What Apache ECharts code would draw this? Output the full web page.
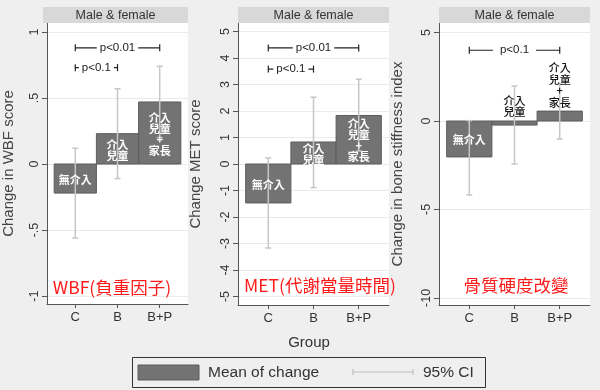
<!DOCTYPE html>
<html><head><meta charset="utf-8">
<script src="https://cdn.jsdelivr.net/npm/echarts@6/dist/echarts.min.js"></script>
<style>html,body{margin:0;padding:0;background:#efefef}#c{width:600px;height:390px}</style>
</head><body><div id="c"></div><script>
// ---------- data ----------
const groups = ['C', 'B', 'B+P'];
const groupPos = [1, 2, 3];
const barLabels = ['無介入', '介入\n兒童', '介入\n兒童\n+\n家長'];

const wbfMean = [-0.22, 0.23, 0.47];
const wbfLow  = [-0.56, -0.11, 0.20];
const wbfHigh = [0.12, 0.57, 0.74];

const metMean = [-1.47, 0.83, 1.83];
const metLow  = [-3.17, -0.89, 0.49];
const metHigh = [0.23, 2.52, 3.20];

const bsiMean = [-2.03, -0.23, 0.56];
const bsiLow  = [-4.18, -2.43, -1.02];
const bsiHigh = [0.02, 1.98, 2.10];

const wbfTicks = [-1, -0.5, 0, 0.5, 1];
const wbfTickLabels = ['-1', '-.5', '0', '.5', '1'];
const metTicks = [-5, -4, -3, -2, -1, 0, 1, 2, 3, 4, 5];
const metTickLabels = ['-5', '-4', '-3', '-2', '-1', '0', '1', '2', '3', '4', '5'];
const bsiTicks = [-10, -5, 0, 5];
const bsiTickLabels = ['-10', '-5', '0', '5'];

// brackets: [from group, to group, y value, text]
const wbfBrackets = [[1, 3, 0.88, 'p<0.01'], [1, 2, 0.73, 'p<0.1']];
const metBrackets = [[1, 3, 4.38, 'p<0.01'], [1, 2, 3.58, 'p<0.1']];
const bsiBrackets = [[1, 3, 4.0, 'p<0.1']];

const panelTitles = ['WBF(負重因子)', 'MET(代謝當量時間)', '骨質硬度改變'];
const yNames = ['Change in WBF score', 'Change MET score', 'Change in bone stiffness index'];
const stripText = 'Male & female';
const xTitle = 'Group';
const legendNames = ['Mean of change', '95% CI'];

// ---------- layout ----------
const FONT = '"Liberation Sans", Arial, sans-serif';
const CJK = '"Noto Sans CJK TC", "Noto Sans CJK SC", sans-serif';
const panels = [
  {mean: wbfMean, low: wbfLow, high: wbfHigh, ticks: wbfTicks, tl: wbfTickLabels, br: wbfBrackets,
   left: 43, top: 23, width: 145, height: 281, ymin: -1.06, ymax: 1.068, nameGap: 31, outside: [false, false, false], brPad: 3, titleX: 112, titleY: 287},
  {mean: metMean, low: metLow, high: metHigh, ticks: metTicks, tl: metTickLabels, br: metBrackets,
   left: 238, top: 23, width: 151, height: 282, ymin: -5.32, ymax: 5.32, nameGap: 35, outside: [false, false, false], brPad: 3, titleX: 320, titleY: 285},
  {mean: bsiMean, low: bsiLow, high: bsiHigh, ticks: bsiTicks, tl: bsiTickLabels, br: bsiBrackets,
   left: 439, top: 23, width: 151, height: 282, ymin: -10.4, ymax: 5.54, nameGap: 34, outside: [false, true, true], brPad: 7, titleX: 516, titleY: 285}
];

const grid = [], xAxis = [], yAxis = [], series = [], graphic = [];

panels.forEach((p, i) => {
  grid.push({left: p.left, top: p.top, width: p.width, height: p.height, show: true,
    backgroundColor: '#ffffff', borderWidth: 0, containLabel: false});
  xAxis.push({type: 'value', gridIndex: i, min: 0.33, max: 3.67,
    axisLine: {show: true, onZero: false, lineStyle: {color: '#555', width: 1}},
    axisTick: {show: true, customValues: groupPos, length: 4, lineStyle: {color: '#555'}},
    axisLabel: {customValues: groupPos, formatter: v => groups[Math.round(v) - 1], color: '#333',
      fontFamily: FONT, fontSize: 13, margin: 7},
    splitLine: {show: false}});
  yAxis.push({type: 'value', gridIndex: i, min: p.ymin, max: p.ymax,
    name: yNames[i], nameLocation: 'middle', nameGap: p.nameGap, nameRotate: 90,
    nameTextStyle: {color: '#444', fontFamily: FONT, fontSize: 15},
    axisLine: {show: true, lineStyle: {color: '#555', width: 1}},
    axisTick: {show: true, customValues: p.ticks, length: 5, lineStyle: {color: '#555'}},
    axisLabel: {customValues: p.ticks, rotate: 90, margin: 6, color: '#333', fontFamily: FONT, fontSize: 12.5,
      formatter: v => { const k = p.ticks.findIndex(t => Math.abs(t - v) < 1e-9); return k >= 0 ? p.tl[k] : ''; }},
    splitLine: {show: true, lineStyle: {color: '#eaeaea', width: 1}}});

  const barData = groupPos.map((g, k) => [g, p.mean[k], p.low[k], p.high[k], k]);
  series.push({type: 'custom', xAxisIndex: i, yAxisIndex: i, data: barData, z: 3, clip: false,
    renderItem: (params, api) => {
      const x = api.value(0), m = api.value(1), lo = api.value(2), hi = api.value(3), k = api.value(4);
      const a = api.coord([x - 0.5, m]), b = api.coord([x + 0.5, 0]);
      const top = Math.min(a[1], b[1]), h = Math.abs(a[1] - b[1]);
      const cx = api.coord([x, 0])[0];
      const pl = api.coord([x, lo])[1], ph = api.coord([x, hi])[1];
      const wc = '#c6c6c6';
      const children = [
        {type: 'rect', shape: {x: a[0], y: top, width: b[0] - a[0], height: h},
          style: {fill: '#737373', stroke: '#5c5c5c', lineWidth: 1}},
        {type: 'line', shape: {x1: cx, y1: pl, x2: cx, y2: ph}, style: {stroke: wc, lineWidth: 1.5}},
        {type: 'line', shape: {x1: cx - 3, y1: pl, x2: cx + 3, y2: pl}, style: {stroke: wc, lineWidth: 1.5}},
        {type: 'line', shape: {x1: cx - 3, y1: ph, x2: cx + 3, y2: ph}, style: {stroke: wc, lineWidth: 1.5}}
      ];
      if (p.outside[k]) {
        children.push({type: 'text', style: {text: barLabels[k], x: cx, y: top - 3, align: 'center',
          verticalAlign: 'bottom', fill: '#111', font: '500 11px ' + CJK, lineHeight: 11.5}});
      } else {
        children.push({type: 'text', style: {text: barLabels[k], x: cx, y: top + h / 2 + 1, align: 'center',
          verticalAlign: 'middle', fill: '#ffffff', font: 'bold 11px ' + CJK, lineHeight: 11}});
      }
      return {type: 'group', children};
    }});

  series.push({type: 'custom', xAxisIndex: i, yAxisIndex: i, data: p.br, z: 4, clip: false,
    renderItem: (params, api) => {
      const s = api.coord([api.value(0), api.value(2)]);
      const e = api.coord([api.value(1), api.value(2)]);
      const y = s[1];
      const st = {stroke: '#222', lineWidth: 1.2};
      return {type: 'group', children: [
        {type: 'line', shape: {x1: s[0], y1: y, x2: e[0], y2: y}, style: st},
        {type: 'line', shape: {x1: s[0], y1: y - 3.5, x2: s[0], y2: y + 3.5}, style: st},
        {type: 'line', shape: {x1: e[0], y1: y - 3.5, x2: e[0], y2: y + 3.5}, style: st},
        {type: 'text', style: {text: p.br[params.dataIndex][3], x: (s[0] + e[0]) / 2, y: y,
          align: 'center', verticalAlign: 'middle', fill: '#222', font: '11.5px ' + FONT,
          backgroundColor: '#ffffff', padding: [1, p.brPad, 1, p.brPad]}}
      ]};
    }});

  // facet strip
  graphic.push({type: 'rect', left: p.left, top: 7, shape: {width: p.width, height: 16},
    style: {fill: '#d8d8d8'}, z: 1});
  graphic.push({type: 'text', x: p.left + p.width / 2, y: 15.5, style: {text: stripText, align: 'center',
    verticalAlign: 'middle', fill: '#333', font: '12.5px ' + FONT}, z: 2});
  // red panel titles
  graphic.push({type: 'text', x: p.titleX, y: p.titleY, style: {text: panelTitles[i], align: 'center',
    verticalAlign: 'middle', fill: '#ff1a1a', font: '17.5px ' + CJK}, z: 10});
});

// x title
graphic.push({type: 'text', x: 309, y: 343, style: {text: xTitle, align: 'center', verticalAlign: 'middle',
  fill: '#333', font: '15px ' + FONT}, z: 2});
// legend
graphic.push({type: 'rect', shape: {x: 132.5, y: 357.5, width: 353, height: 30}, style: {fill: 'none', stroke: '#333', lineWidth: 1}, z: 2});
graphic.push({type: 'rect', shape: {x: 138, y: 365, width: 61, height: 15}, style: {fill: '#737373', stroke: '#5c5c5c', lineWidth: 1}, z: 2});
graphic.push({type: 'text', x: 208, y: 373, style: {text: legendNames[0], align: 'left', verticalAlign: 'middle', fill: '#333', font: '15.5px ' + FONT}, z: 2});
graphic.push({type: 'line', shape: {x1: 353, y1: 372, x2: 413, y2: 372}, style: {stroke: '#c0c0c0', lineWidth: 1.2}, z: 2});
graphic.push({type: 'line', shape: {x1: 353, y1: 369, x2: 353, y2: 375}, style: {stroke: '#c0c0c0', lineWidth: 1.2}, z: 2});
graphic.push({type: 'line', shape: {x1: 413, y1: 369, x2: 413, y2: 375}, style: {stroke: '#c0c0c0', lineWidth: 1.2}, z: 2});
graphic.push({type: 'text', x: 423, y: 373, style: {text: legendNames[1], align: 'left', verticalAlign: 'middle', fill: '#333', font: '15.5px ' + FONT}, z: 2});

const chart = echarts.init(document.getElementById('c'), null, {renderer: 'canvas'});
chart.setOption({backgroundColor: '#efefef', animation: false, grid, xAxis, yAxis, series, graphic});
</script></body></html>
